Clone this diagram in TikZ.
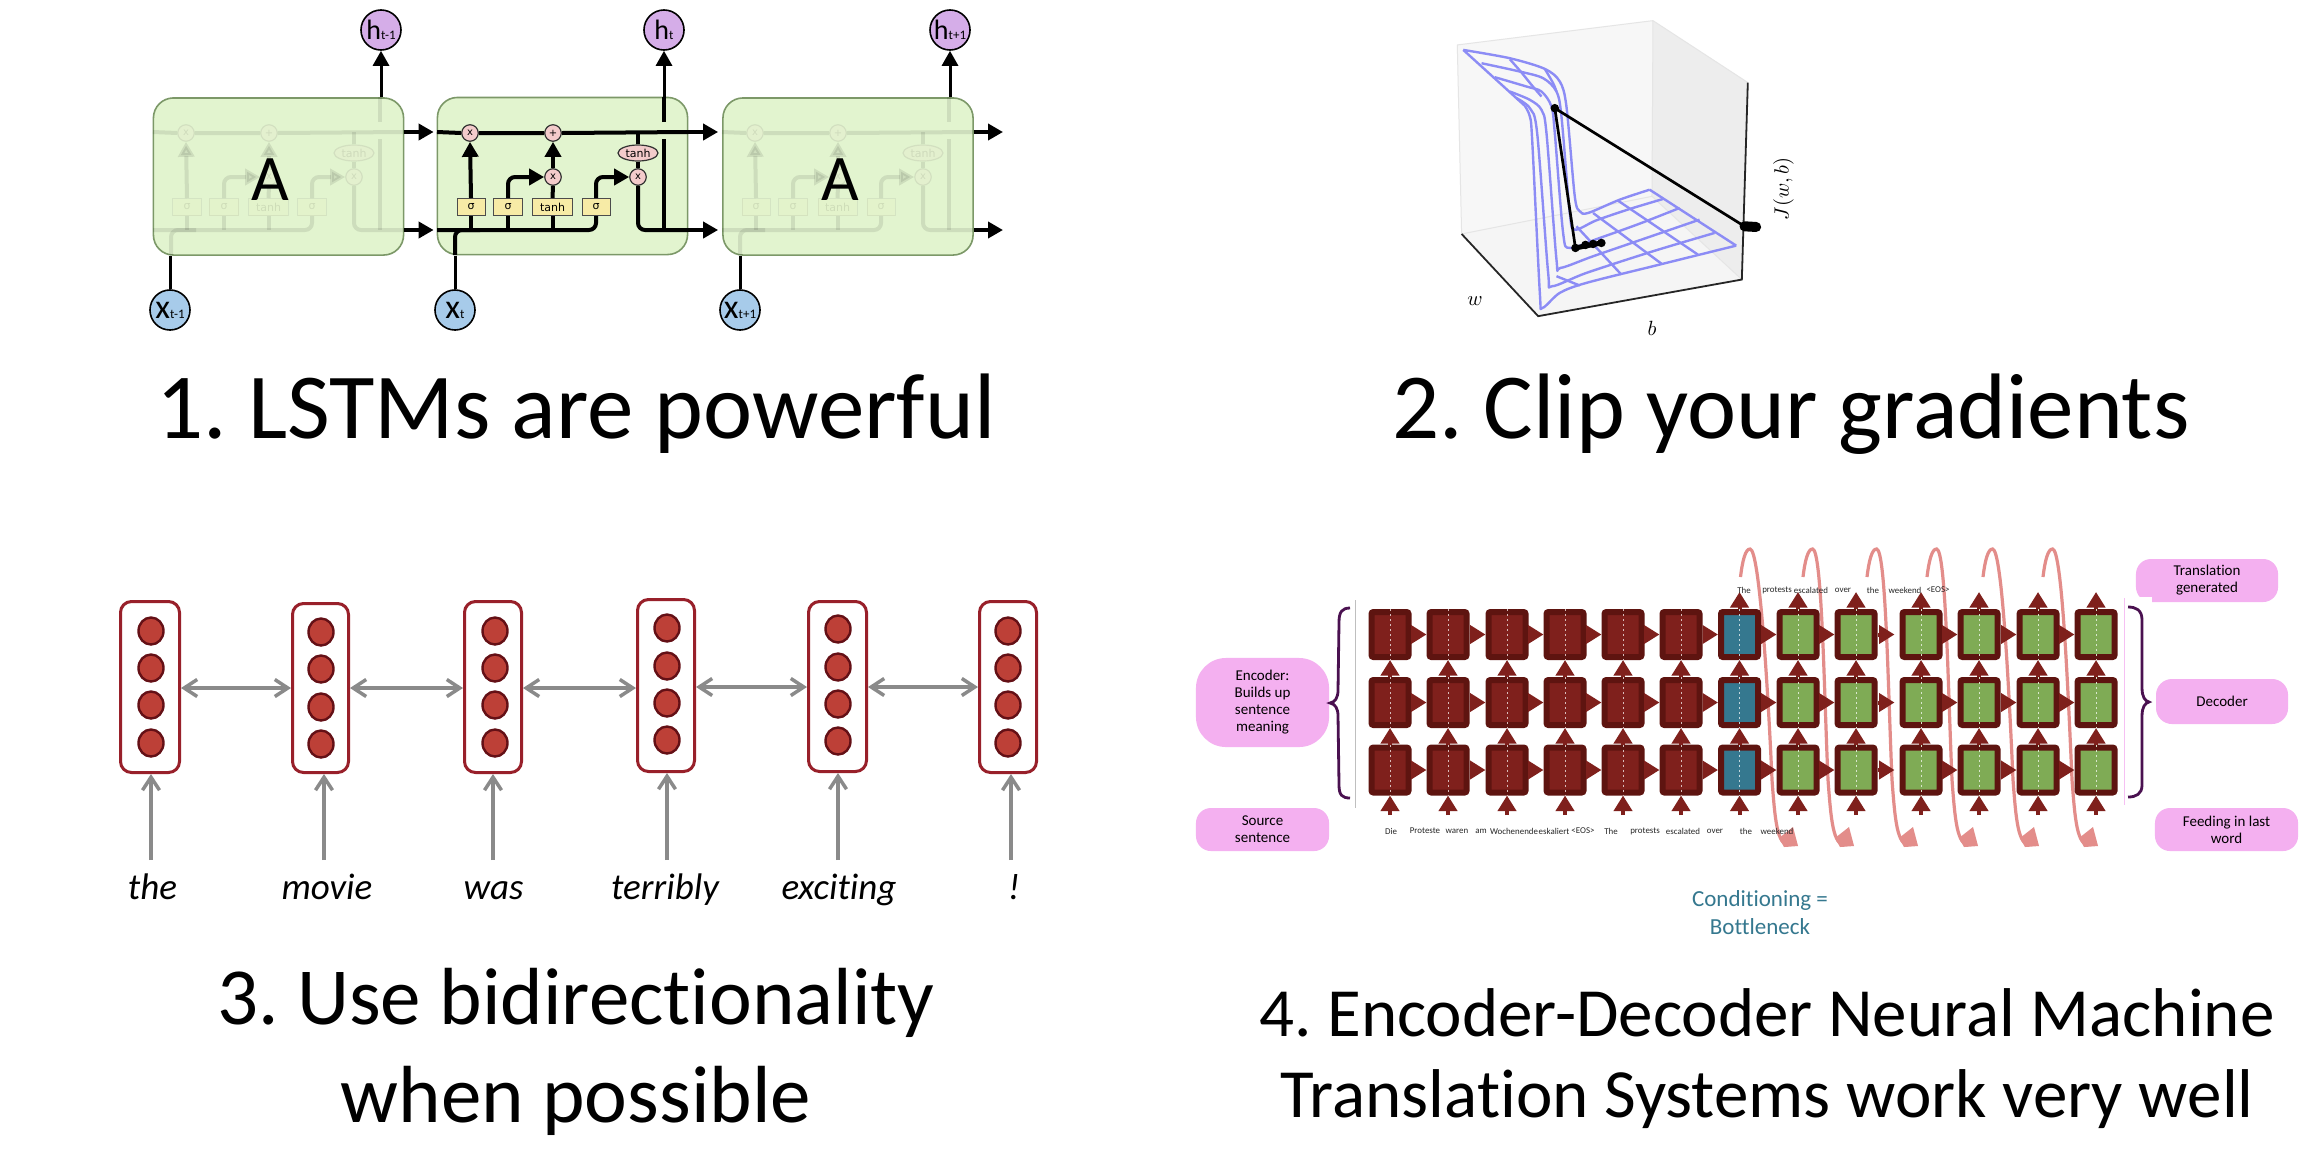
\documentclass[tikz,border=0pt]{standalone}
\usepackage{fontspec}
\setmainfont[Ligatures=NoCommon]{Carlito}
\newfontfamily\djv{DejaVu Sans}
\usetikzlibrary{arrows.meta,calc,shapes.geometric}
\frenchspacing
\newcommand\fpx[2]{\fontsize{\fpeval{#1*0.2845}pt}{\fpeval{#2*0.2845}pt}\selectfont}
\definecolor{boxg}{HTML}{E2F4CF}
\definecolor{boxe}{HTML}{7C9868}
\definecolor{syel}{HTML}{F7EBA6}
\definecolor{cpink}{HTML}{F3CBCB}
\definecolor{hpur}{HTML}{D5ADE8}
\definecolor{xblu}{HTML}{A7CBEA}
\definecolor{rede}{HTML}{98202A}
\definecolor{redf}{HTML}{BD4037}
\definecolor{redd}{HTML}{641016}
\definecolor{gry}{HTML}{8A8A8A}
\definecolor{dk}{HTML}{5E1410}
\definecolor{brick}{HTML}{7F201C}
\definecolor{teal}{HTML}{35788F}
\definecolor{grn}{HTML}{7FAB55}
\definecolor{pill}{HTML}{F4B0F0}
\definecolor{brc}{HTML}{4A1150}
\definecolor{loopc}{HTML}{E38D8A}
\definecolor{surf}{HTML}{8C8CF5}
\tikzset{
 x=0.01cm,y=-0.01cm,
 thickl/.style={line width=.04cm},
 rc/.style={thickl,rounded corners=.07cm},
 tip/.style={-{Triangle[length=.15cm,width=.16cm]}},
 lbox/.style={draw=boxe,line width=.016cm,fill=boxg,rounded corners=.2cm,minimum width=2.5cm,minimum height=1.57cm,inner sep=0},
 sbox/.style={draw=black!70,line width=.01cm,fill=syel,minimum height=.17cm,inner sep=0,font=\djv\fpx{11}{11}},
 pinkc/.style={circle,draw=black!80,line width=.012cm,fill=cpink,minimum size=.165cm,inner sep=0,font=\djv\fpx{10}{10}},
 tanhn/.style={ellipse,draw=black!80,line width=.012cm,fill=cpink,minimum width=.4cm,minimum height=.16cm,inner sep=0,font=\djv\fpx{11}{11}},
 hnode/.style={circle,draw=black,line width=.016cm,fill=hpur,minimum size=.4cm,inner sep=0},
 xnode/.style={circle,draw=black,line width=.016cm,fill=xblu,minimum size=.4cm,inner sep=0},
 vec/.style={draw=rede,line width=.03cm,fill=white,rounded corners=.11cm,minimum width=.58cm,minimum height=1.73cm,inner sep=0},
 neuron/.style={ellipse,draw=redd,line width=.024cm,fill=redf,minimum width=.25cm,minimum height=.27cm,inner sep=0},
 garrow/.style={draw=gry,line width=.035cm,{Straight Barb[length=.13cm,width=.17cm]}-{Straight Barb[length=.13cm,width=.17cm]}},
 gup/.style={draw=gry,line width=.035cm,-{Straight Barb[length=.13cm,width=.17cm]}},
 word/.style={font=\itshape\fpx{37}{37},inner sep=0,anchor=base},
 title/.style={align=center,inner sep=0},
 cellb/.style={draw=dk,line width=.06cm,rounded corners=.02cm,minimum width=.37cm,minimum height=.45cm,inner sep=0},
 brk/.style={draw=brick,line width=.04cm,-{Triangle[length=.155cm,width=.18cm]}},
 pillb/.style={fill=pill,inner sep=0,align=center,font=\fpx{15}{17}},
 tword/.style={font=\fpx{8.9}{10},inner sep=0,text=black!85},
 brace/.style={draw=brc,line width=.028cm},
 surfl/.style={draw=surf,line width=.024cm,line join=round},
 dotb/.style={circle,fill=black,minimum size=.085cm,inner sep=0},
 mathl/.style={inner sep=0,scale=.585},
}
\newcommand\lstmcell[1]{%
 \coordinate (#1upY) at (0,132); \coordinate (#1loY) at (0,230);
 \node[pinkc] (#1m1) at (470,133) {x};
 \node[pinkc] (#1pl) at (553,133) {+};
 \node[pinkc] (#1m3) at (553,177) {x};
 \node[tanhn] (#1th) at (638,153) {tanh};
 \node[pinkc] (#1m4) at (638,177) {x};
 \node[sbox,minimum width=.28cm] (#1s1) at (471,207) {σ};
 \node[sbox,minimum width=.29cm] (#1s2) at (508,207) {σ};
 \node[sbox,minimum width=.39cm] (#1s3) at (552.5,207) {tanh};
 \node[sbox,minimum width=.28cm] (#1s4) at (596,207) {σ};
 \draw[thickl] (437,132) -- (#1m1.west) (#1m1.east) -- (#1pl.west) (#1pl.east) -- (688,132);
 \draw[rc] (437,230) -- (596,230) -- (#1s4.south);
 \draw[rc] (455,255) -- (455,230) -- (480,230);
 \draw[thickl] (#1s1.south) -- (#1s1.south |- #1loY) (#1s2.south) -- (#1s2.south |- #1loY) (#1s3.south) -- (#1s3.south |- #1loY);
 \draw[thickl,tip] (#1s1.north) -- (#1m1.south);
 \draw[rc,tip] (#1s2.north) |- (#1m3.west);
 \draw[thickl] (#1s3.north) -- (#1m3.south);
 \draw[thickl,tip] (#1m3.north) -- (#1pl.south);
 \draw[rc,tip] (#1s4.north) |- (#1m4.west);
 \draw[thickl] (#1th.north) -- (#1th.north |- #1upY) (#1th.south) -- (#1m4.north);
 \draw[rc] (#1m4.south) -- (638,230) -- (688,230);
 \draw[thickl] (664,230) -- (664,139) (664,122) -- (664,97);
}
\begin{document}
\begin{tikzpicture}
\useasboundingbox (0,0) rectangle (2316,1154);
\fill[white] (0,0) rectangle (2316,1154);
% ---------- 1 LSTM
\node[lbox] (b1) at (278.5,176.5) {};
\node[lbox] (b2) at (562.5,176) {};
\node[lbox] (b3) at (848,176.5) {};
\begin{scope}[shift={(-284,0)},opacity=.09]\lstmcell{g}\end{scope}
\begin{scope}[shift={(285,0)},opacity=.09]\lstmcell{k}\end{scope}
\lstmcell{c}
\node[font=\fpx{65}{65},inner sep=0] (A1) at (270,180) {A};
\node[font=\fpx{65}{65},inner sep=0] (A3) at (840,180) {A};
\node[hnode] (h1) at (381,30) {\fpx{28}{28}h\fpx{13}{13}t-1};
\node[hnode] (h2) at (664,30) {\fpx{28}{28}h\fpx{13}{13}t};
\node[hnode] (h3) at (950,30) {\fpx{28}{28}h\fpx{13}{13}t+1};
\node[xnode] (x1) at (170,310) {\fpx{34}{28}x\fpx{13}{13}t-1};
\node[xnode] (x2) at (455,310) {\fpx{34}{28}x\fpx{13}{13}t};
\node[xnode] (x3) at (740,310) {\fpx{34}{28}x\fpx{13}{13}t+1};
\coordinate (tu1) at (381,97); \coordinate (tu3) at (950,97);
\coordinate (bi1) at (170,256); \coordinate (bi3) at (740,256);
\coordinate (endu) at (1003,132); \coordinate (endl) at (1003,230);
\draw[line width=.03cm,tip] (tu1) -- (h1.south);
\draw[line width=.03cm,tip] (664,100) -- (h2.south);
\draw[line width=.03cm,tip] (tu3) -- (h3.south);
\draw[line width=.03cm] (x1.north) -- (bi1);
\draw[line width=.03cm] (x3.north) -- (bi3);
\draw[line width=.03cm] (x2.north) -- (455,256);
\draw[thickl,tip,shorten >=.03cm] (b1.east |- cupY) -- (b2.west |- cupY);
\draw[thickl,tip,shorten >=.03cm] (b1.east |- cloY) -- (b2.west |- cloY);
\draw[thickl,tip,shorten >=.04cm] (b2.east |- cupY) -- (b3.west |- cupY);
\draw[thickl,tip,shorten >=.04cm] (b2.east |- cloY) -- (b3.west |- cloY);
\draw[thickl,tip] (b3.east |- cupY) -- (endu);
\draw[thickl,tip] (b3.east |- cloY) -- (endl);
% ---------- 2 surface
\begin{scope}[shift={(1420,0)},x=0.003333cm,y=-0.003333cm]
 \fill[black!3] (112,135) -- (700,62) -- (697,590) -- (125,703) -- cycle;
 \fill[black!7] (700,62) -- (985,248) -- (967,840) -- (697,590) -- cycle;
 \fill[black!4] (125,703) -- (697,590) -- (967,840) -- (355,950) -- cycle;
 \draw[black!10,line width=.01cm] (112,135) -- (700,62) -- (985,248) (700,62) -- (697,590) -- (125,703) (697,590) -- (967,840) (112,135) -- (125,703);
 \draw[line width=.018cm,black!85] (125,703) -- (355,950) -- (967,840) -- (985,248);
 \begin{scope}[surfl]
 \draw plot[smooth,tension=.5] coordinates {(130,150)(270,175)(375,207)(420,245)(440,320)(465,590)(480,635)(505,640)(600,600)(690,570)};
 \draw plot[smooth,tension=.5] coordinates {(185,190)(300,215)(370,235)(410,275)(425,350)(450,640)(465,690)(530,662)(630,628)(730,598)};
 \draw plot[smooth,tension=.5] coordinates {(225,232)(320,260)(365,275)(395,320)(405,400)(430,700)(450,745)(540,715)(660,672)(780,625)};
 \draw plot[smooth,tension=.5] coordinates {(270,275)(330,300)(365,330)(380,400)(410,780)(422,805)(520,770)(680,715)(840,660)};
 \draw plot[smooth,tension=.5] coordinates {(290,295)(330,325)(352,400)(385,820)(397,860)(500,820)(700,755)(885,700)};
 \draw plot[smooth,tension=.5] coordinates {(315,318)(330,350)(337,420)(360,880)(368,925)(420,880)(500,850)(720,795)(950,738)};
 \draw (130,150) -- (315,318);
 \draw plot[smooth,tension=.5] coordinates {(270,178)(305,218)(335,255)(365,290)};
 \draw plot[smooth,tension=.5] coordinates {(375,207)(400,250)(410,275)};
 \draw (690,570) -- (950,738);
 \draw (595,603) -- (835,765);
 \draw (520,640) -- (725,792);
 \draw (470,680) -- (605,825);
 \draw (410,830) -- (480,858);
 \end{scope}
 \node[dotb] (d0) at (405,325) {};
 \node[dotb] (d1) at (467,745) {};
 \node[dotb] (d2) at (497,736) {};
 \node[dotb] (d3) at (520,733) {};
 \node[dotb] (d4) at (545,730) {};
 \node[dotb] (e0) at (975,680) {};
 \node[dotb] (e1) at (1010,682) {};
 \draw[line width=.1cm,line cap=round] (e0.center) -- (e1.center);
 \draw[line width=.027cm] (d0.center) -- (e0.center);
 \draw[line width=.027cm] (d0.center) -- (d1.center);
 \draw[line width=.05cm] (d1.center) -- (d4.center);
 \node[mathl] (wl) at (165,905) {$w$};
 \node[mathl] (bl) at (697,988) {$b$};
 \node[mathl,rotate=90] (jl) at (1092,568) {$J(w,b)$};
\end{scope}
% ---------- 3 bidirectional
\foreach \i/\bx/\by/\bh/\bw/\nx/\na/\nb/\nc/\nd in {
 1/150/687/174/62/151/631/668/705/743,
 2/320.5/688/172/59/321/632/669/707/744,
 3/493/687/174/60/495/631/668/705/743,
 4/666/685.5/175/60/667/628/666/703/740,
 5/837.5/686.5/173/61/838/629/667/704/741,
 6/1008/687/174/60/1008/631/668/705/743}{
 \node[vec,minimum width=\bw*0.01cm-.03cm,minimum height=\bh*0.01cm-.03cm] (v\i) at (\bx,\by) {};
 \node[neuron] (v\i a) at (\nx,\na) {};
 \node[neuron] (v\i b) at (\nx,\nb) {};
 \node[neuron] (v\i c) at (\nx,\nc) {};
 \node[neuron] (v\i d) at (\nx,\nd) {};
}
\draw[garrow] (v1.east |- 0,688) -- (v2.west |- 0,688);
\draw[garrow] (v2.east |- 0,688) -- (v3.west |- 0,688);
\draw[garrow] (v3.east |- 0,688) -- (v4.west |- 0,688);
\draw[garrow] (v4.east |- 0,687) -- (v5.west |- 0,687);
\draw[garrow] (v5.east |- 0,687) -- (v6.west |- 0,687);
\foreach \i/\wx/\ax/\t in {1/152.5/151/the,2/327/324/movie,3/493.5/493/was,4/665/667/terribly,5/839/838/exciting,6/1014/1011/!}{
 \node[word] (w\i) at (\wx,899) {\t};
 \coordinate (wa\i) at (\ax,860);
 \draw[gup] (wa\i) -- (wa\i |- v\i.south);
}
% ---------- 4 encoder decoder
\foreach \s/\e in {1740.5/1798,1803/1854,1867/1918,1927/1978,1983/2039,2043/2098}{
 \draw[loopc,line width=.032cm] (\s,577) .. controls (\s+2,560) and (\s+5,549) .. (\s+9.5,549) .. controls (\s+19,549) and (\e-30,690) .. (\e-26,780) .. controls (\e-23,820) and (\e-21,845) .. (\e-9,845);
 \fill[loopc] (\e-5,827) -- (\e,846) -- (\e-14,847) -- (\e-19,838) -- cycle;
}
\foreach \c/\x/\col in {1/1390/brick,2/1448/brick,3/1507/brick,4/1565/brick,5/1623/brick,6/1681/brick,7/1739.5/teal,8/1798/grn,9/1856/grn,10/1921/grn,11/1979/grn,12/2038/grn,13/2096/grn}{
 \foreach \r/\y in {1/634.5,2/702.5,3/770}{
  \node[cellb,fill=\col] (n\c-\r) at (\x,\y) {};
  \draw[white!70!\col,line width=.006cm,dash pattern=on .02cm off .03cm] (n\c-\r.north) -- (n\c-\r.south);
 }
 \coordinate (in\c) at (\x,815);
 \draw[brk] (in\c) -- (n\c-3.south);
 \draw[brk] (n\c-3.north) -- (n\c-2.south);
 \draw[brk] (n\c-2.north) -- (n\c-1.south);
}
\foreach \c in {7,...,13}{
 \coordinate (out\c) at (n\c-1.north |- 0,592);
 \draw[brk] (n\c-1.north) -- (out\c);
}
\foreach \a/\b in {1/2,2/3,3/4,4/5,5/6,6/7,7/8,8/9,10/11,11/12,12/13}{
 \foreach \r in {1,2,3}{ \draw[brk,draw=brick] (n\a-\r.east) -- (n\b-\r.west); }
}
\foreach \r in {1,2,3}{ \draw[brk,shorten >=.05cm] (n9-\r.east) -- (n10-\r.west); }
\foreach \t/\x in {The/1744,protests/1777,escalated/1811,over/1843,the/1873,weekend/1905,<EOS>/1938}{
 \node[tword] at (\x,590) {\t};
}
\foreach \t/\x in {Die/1391,Proteste/1425,waren/1457,am/1481,Wochenende/1514,eskaliert/1554,<EOS>/1583,The/1611,protests/1645,escalated/1683,over/1715,the/1746,weekend/1777}{
 \node[tword] at (\x,831) {\t};
}
\node[pillb,rounded corners=.3cm,minimum width=1.33cm,minimum height=.89cm] (enc) at (1262.5,702.5) {Encoder:\\Builds up\\sentence\\meaning};
\node[pillb,rounded corners=.15cm,minimum width=1.33cm,minimum height=.43cm] (src) at (1262.5,829.5) {Source\\sentence};
\node[pillb,rounded corners=.15cm,minimum width=1.42cm,minimum height=.43cm] (trn) at (2207,580.5) {Translation\\generated};
\fill[white] (2134,597) rectangle (2152,604);
\fill[pill] (2152,597) rectangle (2160,602);
\node[pillb,rounded corners=.16cm,minimum width=1.32cm,minimum height=.45cm] (dec) at (2222,701.5) {Decoder};
\node[pillb,rounded corners=.15cm,minimum width=1.43cm,minimum height=.43cm] (fed) at (2226.5,829.5) {Feeding in last\\word};
\draw[black!25,line width=.01cm] (1355,600) -- (1355,808);
\draw[pill!80,line width=.01cm] (2124,598) -- (2124,805);
\draw[brace] (1350,608) .. controls (1342,608) and (1339,612) .. (1339,622) -- (1338,690) .. controls (1338,698) and (1335,702) .. (1330,703) .. controls (1335,704) and (1338,708) .. (1338,716) -- (1339,785) .. controls (1339,795) and (1342,798) .. (1350,798);
\draw[brace] (2128,607) .. controls (2136,607) and (2142,610) .. (2142,620) -- (2142,688) .. controls (2142,697) and (2145,701) .. (2149,702) .. controls (2145,703) and (2142,707) .. (2142,716) -- (2142,785) .. controls (2142,794) and (2136,797) .. (2128,797);
\node[font=\fpx{23}{28.5},text=teal,align=center,inner sep=0] (cond) at (1760,912.5) {Conditioning =\\Bottleneck};
% ---------- titles
\node[title,font=\fpx{93}{98}] (t1) at (576,414) {1. LSTMs are powerful};
\node[title,font=\fpx{93}{98}] (t2) at (1791,414) {2. Clip your gradients};
\node[title,font=\fpx{81}{98}] (t3) at (576,1052) {3. Use bidirectionality\\when possible};
\node[title,font=\fpx{69}{81}] (t4) at (1767,1059) {4. Encoder-Decoder Neural Machine\\Translation Systems work very well};
\end{tikzpicture}
\end{document}
